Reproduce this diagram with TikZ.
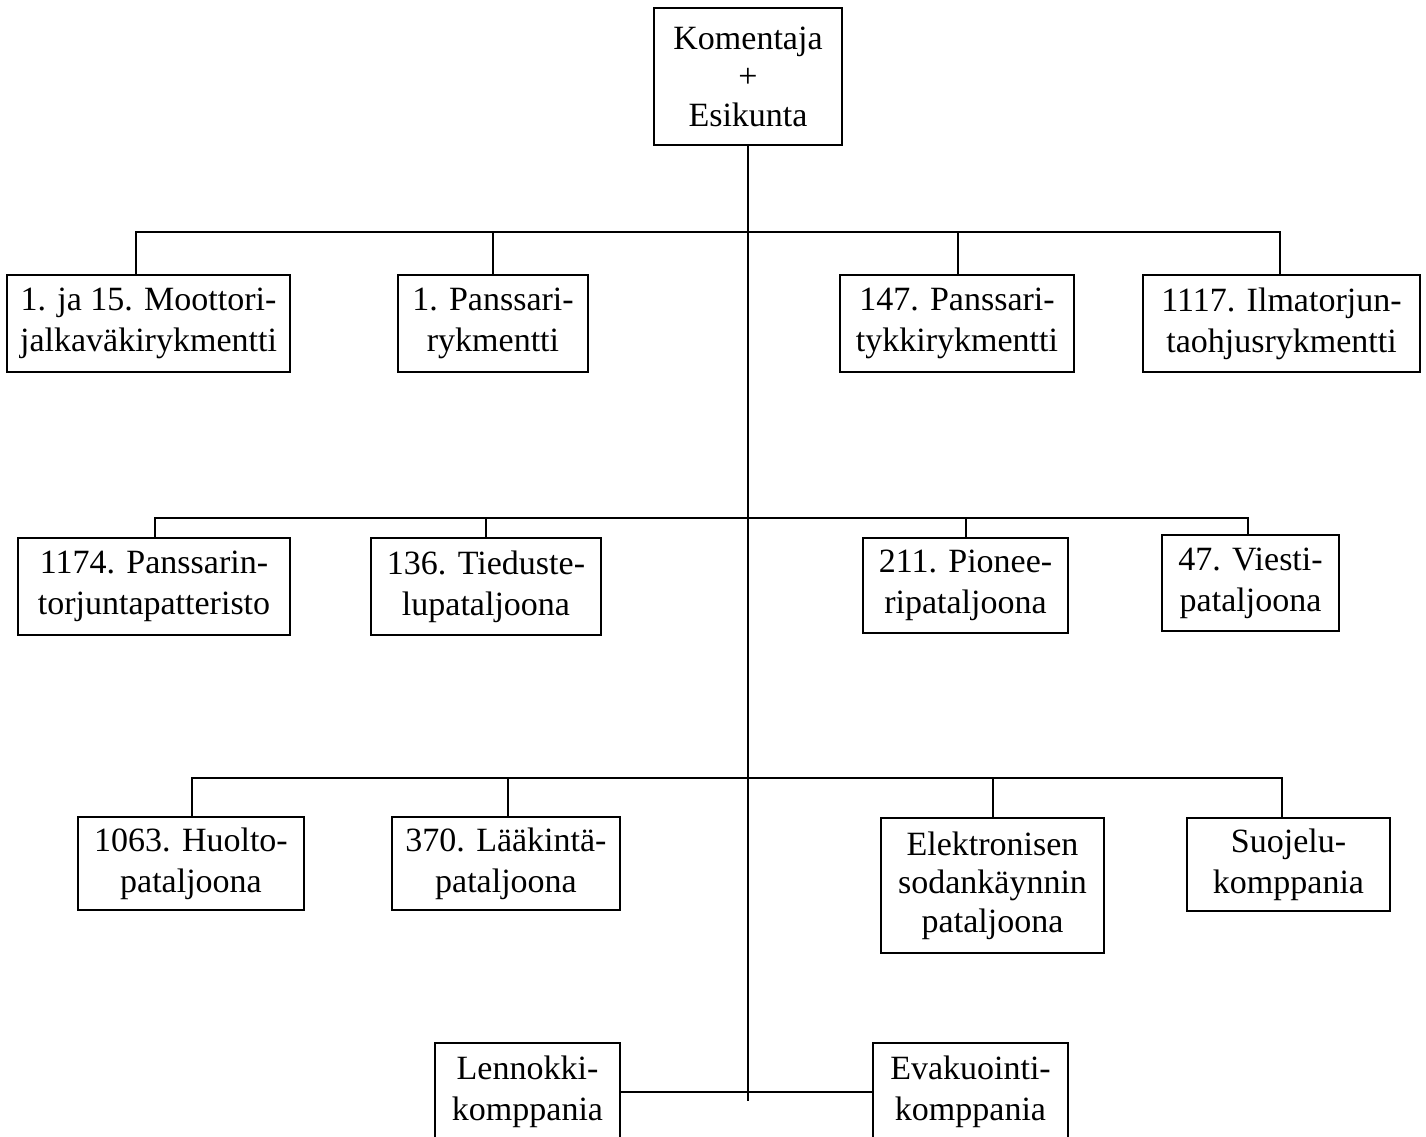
\documentclass[tikz,border=0pt]{standalone}
\usepackage{fontspec}
\setmainfont{Liberation Serif}
\begin{document}
\begin{tikzpicture}[x=1pt,y=-1pt,
  unit/.style={draw, line width=1.8pt, align=center, inner sep=0pt,
    font=\fontsize{34}{41}\selectfont, text=black},
  tight/.style={font=\fontsize{34}{38.5}\selectfont},
  conn/.style={line width=1.8pt, line cap=rect}]
\useasboundingbox (0,0) rectangle (1426,1136);
\clip (0,0) rectangle (1426,1136);
\fill[white] (0,0) rectangle (1426,1136);

% top
\node[unit, tight, minimum width=188, minimum height=137] (top) at (748,76.5) {Komentaja\\+\\Esikunta};

% row 1
\node[unit, minimum width=283, minimum height=97] (A) at (148.5,323.5) {1. ja 15. Moottori-\\jalkaväkirykmentti};
\node[unit, minimum width=190, minimum height=97] (B) at (493,323.5) {1. Panssari-\\rykmentti};
\node[unit, minimum width=234, minimum height=97] (C) at (957,323.5) {147. Panssari-\\tykkirykmentti};
\node[unit, minimum width=277, minimum height=97] (D) at (1281.5,323.5) {1117. Ilmatorjun-\\taohjusrykmentti};

% row 2
\node[unit, minimum width=272, minimum height=97] (E) at (154,586.5) {1174. Panssarin-\\torjuntapatteristo};
\node[unit, minimum width=230, minimum height=97] (F) at (486,586.5) {136. Tieduste-\\lupataljoona};
\node[unit, minimum width=205, minimum height=95] (G) at (965.5,585.5) {211. Pionee-\\ripataljoona};
\node[unit, minimum width=177, minimum height=96] (H) at (1250.5,583) {47. Viesti-\\pataljoona};

% row 3
\node[unit, minimum width=226, minimum height=93] (I) at (191,863.5) {1063. Huolto-\\pataljoona};
\node[unit, minimum width=228, minimum height=93] (J) at (506,863.5) {370. Lääkintä-\\pataljoona};
\node[unit, tight, minimum width=223, minimum height=135] (K) at (992.5,885.5) {Elektronisen\\sodankäynnin\\pataljoona};
\node[unit, minimum width=203, minimum height=93] (L) at (1288.5,864.5) {Suojelu-\\komppania};

% row 4
\node[unit, minimum width=185, minimum height=98] (M) at (527.5,1092) {Lennokki-\\komppania};
\node[unit, minimum width=195, minimum height=98] (N) at (970.5,1092) {Evakuointi-\\komppania};

% trunk
\coordinate (tend) at (748,1100);
\draw[conn] (top.south) -- (tend);

% row 1 bus
\coordinate (sA) at (136,232);
\coordinate (sB) at (493,232);
\coordinate (sC) at (958,232);
\coordinate (sD) at (1280,232);
\draw[conn] (sA) -- (sD);
\foreach \s/\n in {sA/A,sB/B,sC/C,sD/D} \draw[conn] (\s) -- (\s |- \n.north);

% row 2 bus
\coordinate (sE) at (155,518);
\coordinate (sF) at (486,518);
\coordinate (sG) at (966,518);
\coordinate (sH) at (1248,518);
\draw[conn] (sE) -- (sH);
\foreach \s/\n in {sE/E,sF/F,sG/G,sH/H} \draw[conn] (\s) -- (\s |- \n.north);

% row 3 bus
\coordinate (sI) at (192,778);
\coordinate (sJ) at (508,778);
\coordinate (sK) at (993,778);
\coordinate (sL) at (1282,778);
\draw[conn] (sI) -- (sL);
\foreach \s/\n in {sI/I,sJ/J,sK/K,sL/L} \draw[conn] (\s) -- (\s |- \n.north);

% row 4
\draw[conn] (M.east) -- (N.west);
\end{tikzpicture}
\end{document}
